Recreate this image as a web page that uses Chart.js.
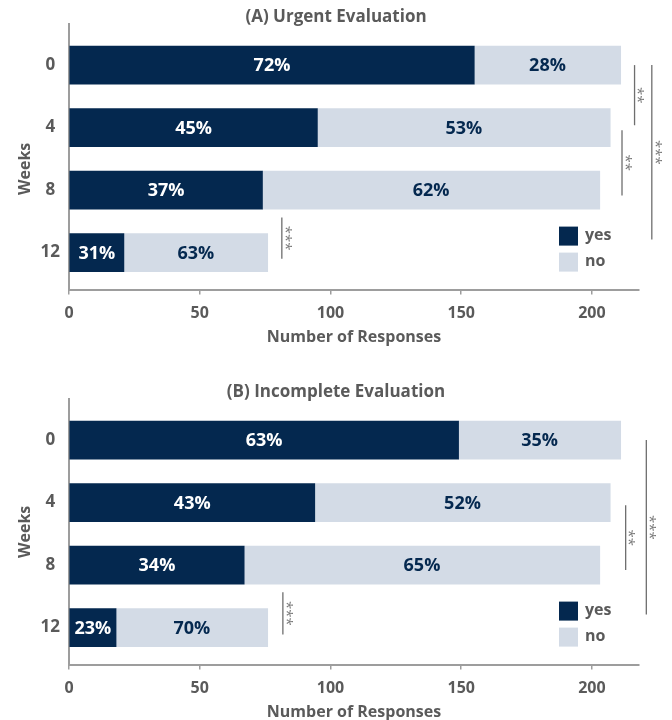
<!DOCTYPE html>
<html>
<head>
<meta charset="utf-8">
<script src="https://cdn.jsdelivr.net/npm/chart.js@4"></script>
<style>
  body { margin: 0; background: #fff; width: 672px; height: 720px; overflow: hidden; position: relative; }
  .panel { position: absolute; left: 0; width: 672px; height: 347px; }
  #panelA { top: 0; }
  #panelB { top: 375px; }
</style>
</head>
<body>
<div class="panel" id="panelA"><canvas id="chartA" width="672" height="347"></canvas></div>
<div class="panel" id="panelB"><canvas id="chartB" width="672" height="347"></canvas></div>
<script>
// weeks after baseline
const weeks = [0, 4, 8, 12];

// (A) urgent evaluation - number of responses
const urgentYes = [155, 95, 74, 21];
const urgentNo = [56, 112, 129, 55];
const urgentYesPct = ['72%', '45%', '37%', '31%'];
const urgentNoPct = ['28%', '53%', '62%', '63%'];

// (B) incomplete evaluation - number of responses
const incompleteYes = [149, 94, 67, 18];
const incompleteNo = [62, 113, 136, 58];
const incompleteYesPct = ['63%', '43%', '34%', '23%'];
const incompleteNoPct = ['35%', '52%', '65%', '70%'];

const xTicks = [0, 50, 100, 150, 200];

const NAVY = '#04284f';
const LIGHT = '#d3dbe6';
const GREY = '#5a5a5a';
const AXIS = '#9d9d9d';
const FONT = '"Open Sans", "Noto Sans", sans-serif';

// percentage text inside each bar segment
const barLabels = {
  id: 'barLabels',
  afterDatasetsDraw(chart, args, opts) {
    const ctx = chart.ctx;
    ctx.save();
    ctx.font = 'bold 18px ' + FONT;
    ctx.textAlign = 'center';
    ctx.textBaseline = 'middle';
    chart.data.datasets.forEach((ds, di) => {
      chart.getDatasetMeta(di).data.forEach((bar, i) => {
        ctx.fillStyle = opts.colors[di];
        ctx.fillText(opts.texts[di][i], (bar.x + bar.base) / 2, bar.y + 1);
      });
    });
    ctx.restore();
  }
};

// significance lines with rotated stars
const sigLines = {
  id: 'sigLines',
  afterDraw(chart, args, opts) {
    const ctx = chart.ctx;
    const xs = chart.scales.x, ys = chart.scales.y;
    ctx.save();
    opts.lines.forEach(l => {
      const x = xs.getPixelForValue(l.at);
      const y1 = ys.getPixelForValue(l.from);
      const y2 = ys.getPixelForValue(l.to);
      ctx.strokeStyle = '#6e6e6e';
      ctx.lineWidth = 1.3;
      ctx.beginPath();
      ctx.moveTo(x, y1);
      ctx.lineTo(x, y2);
      ctx.stroke();
      ctx.save();
      ctx.translate(x + 3, (y1 + y2) / 2);
      ctx.rotate(Math.PI / 2);
      ctx.fillStyle = '#777777';
      ctx.font = '15px ' + FONT;
      ctx.textAlign = 'center';
      ctx.textBaseline = 'middle';
      ctx.fillText(l.stars, 0, 0);
      ctx.restore();
    });
    ctx.restore();
  }
};

// legend boxes in the lower right corner of the plot, plus the rotated "Weeks" label
const boxLegend = {
  id: 'boxLegend',
  afterDraw(chart, args, opts) {
    const ctx = chart.ctx;
    const area = chart.chartArea;
    ctx.save();
    ctx.font = 'bold 16px ' + FONT;
    ctx.textBaseline = 'middle';
    ctx.textAlign = 'left';
    chart.data.datasets.forEach((ds, i) => {
      const bx = area.right - 80;
      const by = area.bottom - 63 + i * 26;
      ctx.fillStyle = ds.backgroundColor;
      ctx.fillRect(bx, by, 19, 19);
      ctx.fillStyle = GREY;
      ctx.fillText(ds.label, bx + 26, by + 9);
    });
    // y axis title
    ctx.translate(25, (area.top + area.bottom) / 2 + opts.weeksShift);
    ctx.rotate(-Math.PI / 2);
    ctx.textAlign = 'center';
    ctx.fillText('Weeks', 0, 0);
    ctx.restore();
  }
};

function makePanel(id, title, yes, no, yesPct, noPct, lines, weeksShift) {
  return new Chart(document.getElementById(id), {
    type: 'bar',
    data: {
      datasets: [
        { label: 'yes', data: weeks.map((w, i) => ({ x: yes[i], y: w })), backgroundColor: NAVY, barThickness: 38 },
        { label: 'no', data: weeks.map((w, i) => ({ x: no[i], y: w })), backgroundColor: LIGHT, barThickness: 38 }
      ]
    },
    options: {
      indexAxis: 'y',
      responsive: false,
      animation: false,
      layout: { padding: 0 },
      scales: {
        x: {
          type: 'linear',
          stacked: true,
          min: 0,
          max: 218,
          grid: { display: true, drawOnChartArea: false, drawTicks: true, tickLength: 5, color: AXIS, lineWidth: 1.5 },
          border: { display: true, color: AXIS, width: 2 },
          afterBuildTicks: s => { s.ticks = xTicks.map(v => ({ value: v })); },
          ticks: { color: GREY, padding: 9, font: { family: FONT, size: 16, weight: 'bold' } },
          title: { display: true, text: 'Number of Responses', color: GREY, padding: { top: -4, bottom: 0 },
                   font: { family: FONT, size: 16, weight: 'bold' } }
        },
        y: {
          type: 'linear',
          stacked: true,
          reverse: true,
          offset: false,
          min: -2.63,
          max: 14.37,
          grid: { display: false, drawTicks: false },
          border: { display: true, color: AXIS, width: 2 },
          afterBuildTicks: s => { s.ticks = weeks.map(v => ({ value: v })); },
          afterFit: s => { s.width = 69; },
          ticks: { color: GREY, padding: 9, crossAlign: 'center', font: { family: FONT, size: 17, weight: 'bold' } }
        },
        // empty right-hand axis, keeps room for the significance marks
        side: {
          type: 'linear',
          axis: 'y',
          position: 'right',
          grid: { display: false, drawTicks: false },
          border: { display: false },
          ticks: { display: false },
          afterFit: s => { s.width = 33; }
        }
      },
      plugins: {
        legend: { display: false },
        tooltip: { enabled: false },
        title: {
          display: true,
          text: title,
          color: GREY,
          padding: { top: 9, bottom: -2 },
          font: { family: FONT, size: 17, weight: 'bold', lineHeight: 1 }
        },
        barLabels: { texts: [yesPct, noPct], colors: ['#ffffff', NAVY] },
        sigLines: { lines: lines },
        boxLegend: { weeksShift: weeksShift }
      }
    },
    plugins: [barLabels, sigLines, boxLegend]
  });
}

makePanel('chartA', '(A) Urgent Evaluation', urgentYes, urgentNo, urgentYesPct, urgentNoPct, [
  { from: 0, to: 3.85, at: 216.3, stars: '**' },
  { from: 4.17, to: 8.34, at: 211.5, stars: '**' },
  { from: 0, to: 11.17, at: 222.9, stars: '***' },
  { from: 9.75, to: 12.39, at: 81.4, stars: '***' }
], 12);

makePanel('chartB', '(B) Incomplete Evaluation', incompleteYes, incompleteNo, incompleteYesPct, incompleteNoPct, [
  { from: 4.17, to: 8.32, at: 212.9, stars: '**' },
  { from: 0, to: 11.16, at: 220.8, stars: '***' },
  { from: 9.74, to: 12.45, at: 81.8, stars: '***' }
], 0);
</script>
</body>
</html>
